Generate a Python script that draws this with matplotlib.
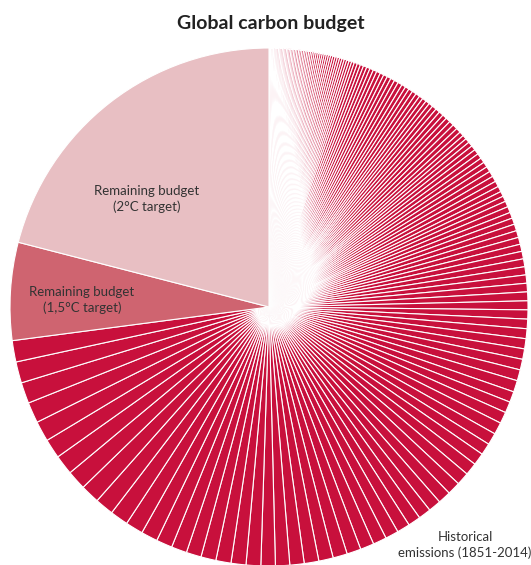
import matplotlib
matplotlib.use("Agg")
import matplotlib.pyplot as plt

# Historical CO2 emissions per year (GtCO2), 1851-2014
years = list(range(1851, 2015))
hist = [
    # 1851-1859
    2.1, 2.1, 2.2, 2.2, 2.3, 2.3, 2.3, 2.4, 2.4,
    # 1860s
    2.5, 2.5, 2.5, 2.6, 2.6, 2.7, 2.7, 2.8, 2.8, 2.9,
    # 1870s
    2.9, 3.0, 3.1, 3.1, 3.1, 3.2, 3.2, 3.3, 3.3, 3.4,
    # 1880s
    3.5, 3.6, 3.7, 3.8, 3.8, 3.8, 3.9, 4.0, 4.1, 4.1,
    # 1890s
    4.3, 4.4, 4.4, 4.4, 4.5, 4.6, 4.7, 4.8, 5.0, 5.2,
    # 1900s
    6.0, 6.1, 6.2, 6.5, 6.6, 6.8, 7.0, 7.4, 7.2, 7.4,
    # 1910s
    7.6, 7.7, 7.9, 8.3, 7.8, 7.6, 7.9, 8.1, 8.0, 7.3,
    # 1920s
    7.9, 7.6, 7.9, 8.5, 8.5, 8.7, 8.6, 9.0, 9.1, 9.5,
    # 1930s
    9.1, 8.6, 8.1, 8.4, 8.9, 9.1, 9.6, 9.9, 9.6, 10.0,
    # 1940s
    10.4, 10.6, 10.7, 10.9, 10.7, 9.8, 10.4, 11.1, 11.6, 11.3,
    # 1950s
    12.1, 12.8, 13.0, 13.3, 13.6, 14.4, 15.0, 15.5, 15.7, 16.3,
    # 1960s
    16.8, 17.0, 17.4, 18.1, 18.8, 19.3, 19.9, 20.3, 21.0, 21.9,
    # 1970s
    20.5, 21.2, 21.9, 22.8, 22.6, 22.4, 23.2, 23.6, 24.2, 24.8,
    # 1980s
    24.4, 24.0, 23.8, 23.9, 24.6, 25.2, 25.7, 26.1, 26.9, 27.2,
    # 1990s
    27.5, 27.8, 27.2, 27.1, 27.4, 27.9, 28.4, 28.8, 28.6, 28.5,
    # 2000-2014
    29.5, 30.5, 31.5, 33.5, 34.5, 35.5, 36.2, 36.8, 37.5, 37.0,
    38.8, 39.5, 40.0, 40.4, 40.6,
]
budget_15 = 186.0   # remaining budget, 1.5°C target
budget_20 = 640.0   # remaining budget, 2°C target

labels_text = {
    "title": "Global carbon budget",
    "b20": "Remaining budget\n(2°C target)",
    "b15": "Remaining budget\n(1,5°C target)",
    "hist": "Historical\nemissions (1851-2014)",
}

C_HIST = "#C8103C"
C_15 = "#CF6470"
C_20 = "#E8BFC3"
C_TEXT = "#333333"

W, H = 531, 565
fig = plt.figure(figsize=(W / 100, H / 100), dpi=100)
ax = fig.add_axes([0, 0, 1, 1])

values = hist + [budget_15, budget_20]
colors = [C_HIST] * len(hist) + [C_15, C_20]

cx, cy, r = 269, H - 307, 259
ax.pie(values, colors=colors, startangle=90, counterclock=False,
       center=(cx, cy), radius=r,
       wedgeprops=dict(edgecolor="white", linewidth=0.8, antialiased=True))

ax.set_xlim(0, W)
ax.set_ylim(0, H)
ax.set_aspect("equal")
ax.axis("off")

font = ["Lato", "DejaVu Sans"]
ax.text(271, H - 24, labels_text["title"], ha="center", va="center",
        fontsize=14, fontweight="bold", color="#222222", family=font)
ax.text(147, H - 199, labels_text["b20"], ha="center", va="center",
        fontsize=9.5, color=C_TEXT, family=font, linespacing=1.25)
ax.text(82, H - 300, labels_text["b15"], ha="center", va="center",
        fontsize=9.5, color=C_TEXT, family=font, linespacing=1.25)
ax.text(465, H - 545, labels_text["hist"], ha="center", va="center",
        fontsize=9.5, color=C_TEXT, family=font, linespacing=1.25)

fig.savefig("out.png", dpi=100, facecolor="white")
